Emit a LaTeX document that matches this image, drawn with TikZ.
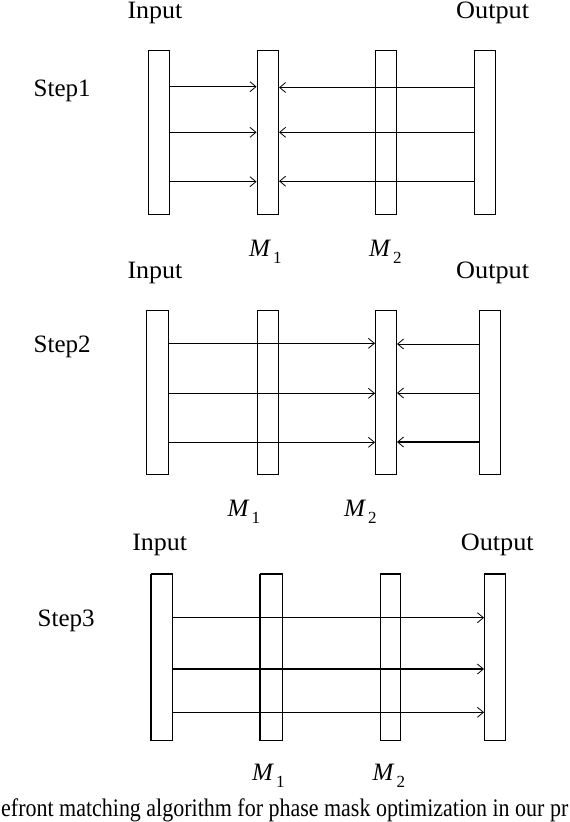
\documentclass[tikz,border=0pt]{standalone}
\usepackage{fontspec}
\setmainfont{Liberation Serif}
\usetikzlibrary{arrows.meta}
\newcommand{\Mlabel}[1]{{\fontsize{25}{25}\selectfont\textit{M}\hspace{2pt}\raisebox{-7pt}{\fontsize{17}{17}\selectfont #1}}}
\begin{document}
\begin{tikzpicture}[x=1pt,y=-1pt,
  plate/.style={draw,line width=1pt,inner sep=0pt,minimum width=21pt,minimum height=164pt,fill=white},
  ray/.style={line width=0.8pt,-{Straight Barb[length=6pt,width=10pt,line width=0.8pt]}},
  thickray/.style={ray,line width=1.4pt},
  lab/.style={anchor=base,inner sep=0pt,font=\fontsize{25}{30}\selectfont},
  steplab/.style={anchor=base west,inner sep=0pt,font=\fontsize{25}{30}\selectfont},
  mlab/.style={anchor=base west,inner sep=0pt},
  captionlab/.style={anchor=base west,inner sep=0pt}]
\useasboundingbox (0,0) rectangle (570,822);
% ---------- Step 1 ----------
\node[lab] (inlab1) at (155,18.3) {\scalebox{1.04}[1]{Input}};
\node[lab] (outlab1) at (492.7,18.3) {\scalebox{1.05}[1]{Output}};
\node[steplab] (step1) at (33.5,96.7) {Step1};
\node[plate] (in1) at (159,132.9) {};
\node[plate,minimum width=21.5pt] (m1a) at (267.8,132.9) {};
\node[plate] (m2a) at (386,132.9) {};
\node[plate] (out1) at (484.9,132.9) {};
\draw[ray] (in1.east |- 0,86.7) -- (m1a.west |- 0,86.7);
\draw[ray] (in1.east |- 0,132.3) -- (m1a.west |- 0,132.3);
\draw[ray] (in1.east |- 0,181.7) -- (m1a.west |- 0,181.7);
\draw[ray] (out1.west |- 0,87.5) -- (m1a.east |- 0,87.5);
\draw[ray] (out1.west |- 0,132.3) -- (m1a.east |- 0,132.3);
\draw[ray] (out1.west |- 0,181.2) -- (m1a.east |- 0,181.2);
\node[mlab] (mlab1a) at (249,256.7) {\Mlabel{1}};
\node[mlab] (mlab2a) at (369,256.7) {\Mlabel{2}};
% ---------- Step 2 ----------
\node[lab] (inlab2) at (155,278) {\scalebox{1.04}[1]{Input}};
\node[lab] (outlab2) at (492.7,278) {\scalebox{1.05}[1]{Output}};
\node[steplab] (step2) at (33.5,352.7) {Step2};
\node[plate,minimum width=22pt] (in2) at (157.5,392.6) {};
\node[plate,minimum width=21.5pt] (m1b) at (267.8,392.8) {};
\node[plate] (m2b) at (386,392.8) {};
\node[plate] (out2) at (489.9,392.6) {};
\draw[ray] (in2.east |- 0,343.3) -- (m2b.west |- 0,343.3);
\draw[ray] (in2.east |- 0,393.3) -- (m2b.west |- 0,393.3);
\draw[ray] (in2.east |- 0,442.3) -- (m2b.west |- 0,442.3);
\draw[ray] (out2.west |- 0,344) -- (m2b.east |- 0,344);
\draw[ray] (out2.west |- 0,393) -- (m2b.east |- 0,393);
\draw[thickray] (out2.west |- 0,442) -- (m2b.east |- 0,442);
\node[mlab] (mlab1b) at (227.5,516.7) {\Mlabel{1}};
\node[mlab] (mlab2b) at (344,516.7) {\Mlabel{2}};
% ---------- Step 3 ----------
\node[lab] (inlab3) at (159.7,550) {\scalebox{1.04}[1]{Input}};
\node[lab] (outlab3) at (497.3,550) {\scalebox{1.05}[1]{Output}};
\node[steplab] (step3) at (37.5,626.7) {Step3};
\node[plate,minimum width=21.4pt,minimum height=166pt] (in3) at (161.7,657.3) {};
\node[plate,minimum width=22pt,minimum height=166pt] (m1c) at (271.6,657.3) {};
\node[plate,minimum width=20.3pt,minimum height=166pt] (m2c) at (390.5,657.3) {};
\node[plate,minimum width=21pt,minimum height=166pt] (out3) at (495,657.3) {};
\draw[line width=2pt] (in3.north west) -- (in3.north east);
\draw[line width=2pt] (in3.north west) -- (in3.south west);
\draw[line width=2pt] (m1c.north west) -- (m1c.north east);
\draw[line width=2pt] (m1c.north west) -- (m1c.south west);
\draw[line width=2pt] (m2c.north west) -- (m2c.north east);
\draw[line width=2pt] (out3.north west) -- (out3.north east);
\draw[ray] (in3.east |- 0,617.7) -- (out3.west |- 0,617.7);
\draw[thickray] (in3.east |- 0,669) -- (out3.west |- 0,669);
\draw[ray] (in3.east |- 0,712.3) -- (out3.west |- 0,712.3);
\node[mlab] (mlab1c) at (252,780) {\Mlabel{1}};
\node[mlab] (mlab2c) at (372.5,780) {\Mlabel{2}};
% ---------- caption ----------
\node[captionlab] (caption) at (1,816) {\scalebox{1}[1.15]{\resizebox{567pt}{!}{\fontsize{24}{28}\selectfont efront matching algorithm for phase mask optimization in our pr}}};
\end{tikzpicture}
\end{document}
